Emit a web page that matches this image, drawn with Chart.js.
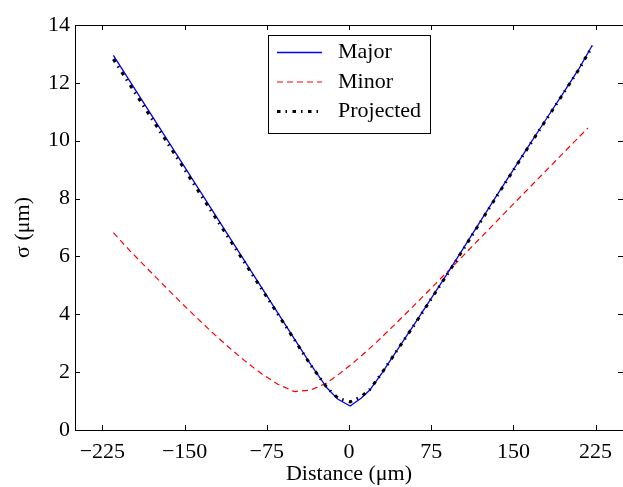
<!DOCTYPE html>
<html>
<head>
<meta charset="utf-8">
<script src="https://cdn.jsdelivr.net/npm/chart.js@4/dist/chart.umd.min.js"></script>
<style>
  html, body { margin: 0; padding: 0; background: #fff; }
  #wrap { width: 623px; height: 487px; }
</style>
</head>
<body>
<div id="wrap"><canvas id="myChart"></canvas></div>
<script>
// values
var majorX = [-215,-200,-185,-170,-155,-140,-125,-110,-95,-80,-65,-50,-35,-20,-10,1,11,19,30,45,60,75,90,105,120,135,150,165,180,195,210,222];
var majorY = [12.95,12.06,11.17,10.28,9.39,8.50,7.61,6.72,5.83,4.94,4.05,3.16,2.27,1.45,1.06,0.83,1.10,1.38,1.97,2.82,3.68,4.55,5.42,6.32,7.22,8.12,9.00,9.88,10.75,11.62,12.50,13.30];
var projX = [-215,-200,-185,-170,-155,-140,-125,-110,-95,-80,-65,-50,-35,-20,-10,1,11,19,30,45,60,75,90,105,120,135,150,165,180,195,210,222];
var projY = [12.82,11.94,11.06,10.18,9.30,8.41,7.53,6.65,5.77,4.89,4.01,3.13,2.25,1.46,1.10,0.97,1.15,1.40,1.97,2.82,3.66,4.53,5.40,6.29,7.19,8.09,8.98,9.86,10.73,11.60,12.48,13.27];
var minorX = [-215,-200,-185,-170,-155,-140,-125,-110,-95,-80,-65,-50,-35,-20,-5,10,25,40,55,70,85,100,115,130,145,160,175,190,205,218];
var minorY = [6.82,6.20,5.62,5.04,4.47,3.92,3.38,2.87,2.39,1.95,1.58,1.33,1.38,1.63,2.05,2.52,3.03,3.58,4.14,4.71,5.29,5.86,6.45,7.03,7.62,8.20,8.78,9.36,9.94,10.44];
var xTicks = [-225,-150,-75,0,75,150,225];
var yTicks = [0,2,4,6,8,10,12,14];
var labels = ['Major','Minor','Projected'];

function pts(xs, ys){ return xs.map(function(x,i){ return {x:x, y:ys[i]}; }); }
var FONT = "'Liberation Serif', 'DejaVu Serif', serif";

// matplotlib-style frame with inward ticks + boxed legend
var frame = {
  id: 'frame',
  afterDraw: function(chart){
    var ctx = chart.ctx, a = chart.chartArea;
    var xs = chart.scales.x, ys = chart.scales.y;
    ctx.save();
    ctx.strokeStyle = '#000';
    ctx.lineWidth = 1;
    ctx.beginPath();
    ctx.moveTo(a.left+0.5, a.top+0.5); ctx.lineTo(a.left+0.5, a.bottom+0.5);
    ctx.lineTo(a.right+2, a.bottom+0.5);
    ctx.moveTo(a.left+0.5, a.top+0.5); ctx.lineTo(a.right+2, a.top+0.5);
    xTicks.forEach(function(v){
      var p = Math.round(xs.getPixelForValue(v))+0.5;
      ctx.moveTo(p, a.bottom); ctx.lineTo(p, a.bottom-5);
      ctx.moveTo(p, a.top); ctx.lineTo(p, a.top+5);
    });
    yTicks.forEach(function(v){
      var p = Math.round(ys.getPixelForValue(v))+0.5;
      ctx.moveTo(a.left, p); ctx.lineTo(a.left+5, p);
      ctx.moveTo(a.right, p); ctx.lineTo(a.right-5, p);
    });
    ctx.stroke();

    // legend
    var bx = 268.5, by = 35.5, bw = 162, bh = 98;
    ctx.fillStyle = '#fff';
    ctx.fillRect(bx, by, bw, bh);
    ctx.strokeStyle = '#000';
    ctx.lineWidth = 1;
    ctx.strokeRect(bx, by, bw, bh);
    ctx.font = "22px " + FONT;
    ctx.textBaseline = 'middle';
    [0,1,2].forEach(function(k, i){
      var ds = chart.data.datasets[k];
      var y = 52.5 + i*29.5;
      ctx.save();
      ctx.strokeStyle = ds.borderColor;
      ctx.lineWidth = ds.borderWidth;
      ctx.setLineDash(ds.borderDash || []);
      ctx.beginPath();
      ctx.moveTo(277, y); ctx.lineTo(322, y);
      ctx.stroke();
      ctx.restore();
      ctx.fillStyle = '#000';
      ctx.fillText(ds.label, 338, y);
    });
    ctx.restore();
  }
};

const config = {
  type: 'line',
  data: {
    datasets: [{
      label: labels[0],
      data: pts(majorX, majorY),
      borderColor: 'rgb(0,0,255)',
      borderWidth: 1.3,
      pointRadius: 0,
      order: 2
    },{
      label: labels[1],
      data: pts(minorX, minorY),
      borderColor: 'rgb(255,0,0)',
      borderWidth: 1.2,
      borderDash: [6,4],
      pointRadius: 0,
      order: 3
    },{
      label: labels[2],
      data: pts(projX, projY),
      borderColor: 'rgb(0,0,0)',
      borderWidth: 3,
      borderDash: [3.5,5,1.5,5.5],
      pointRadius: 0,
      order: 1
    }]
  },
  options: {
    responsive: true,
    maintainAspectRatio: false,
    animation: false,
    layout: { padding: { top: 25, right: 0, left: 0, bottom: 0 } },
    plugins: {
      legend: { display: false },
      tooltip: { enabled: false }
    },
    scales: {
      x: {
        type: 'linear',
        min: -250, max: 250,
        grid: { display: false, drawTicks: false },
        border: { display: false },
        afterBuildTicks: function(s){ s.ticks = xTicks.map(function(v){ return {value:v}; }); },
        afterFit: function(s){ s.height = 57; },
        ticks: {
          color: '#000', padding: 9, maxRotation: 0,
          font: { family: FONT, size: 22 },
          callback: function(v){ return String(v).replace('-', '\u2212'); }
        },
        title: {
          display: true, text: 'Distance (\u03bcm)', color: '#000',
          font: { family: FONT, size: 22 }, padding: { top: 0, bottom: 0 }
        }
      },
      y: {
        min: 0, max: 14,
        grid: { display: false, drawTicks: false },
        border: { display: false },
        afterBuildTicks: function(s){ s.ticks = yTicks.map(function(v){ return {value:v}; }); },
        afterFit: function(s){ s.width = 75; },
        ticks: {
          color: '#000', padding: 5,
          font: { family: FONT, size: 22 }
        },
        title: {
          display: true, text: '\u03c3 (\u03bcm)', color: '#000',
          font: { family: FONT, size: 22 }, padding: { top: 10, bottom: 0 }
        }
      }
    }
  },
  plugins: [frame]
};

var myChart = new Chart(document.getElementById('myChart'), config);
</script>
</body>
</html>
